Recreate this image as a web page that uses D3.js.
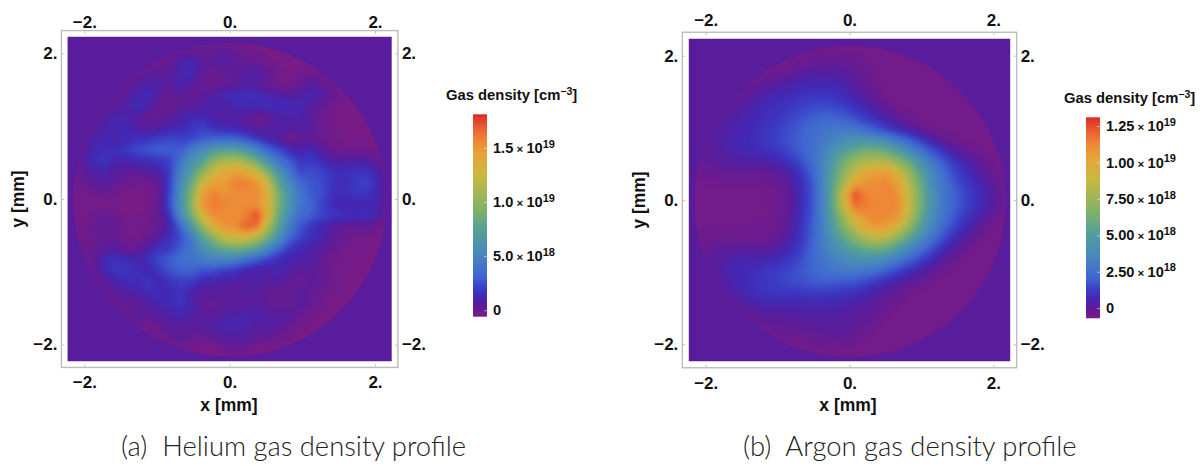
<!DOCTYPE html>
<html>
<head>
<meta charset="utf-8">
<script src="https://cdn.jsdelivr.net/npm/d3@7"></script>
<style>
  body { margin: 0; background: #fff; }
  svg { display: block; }
  text { font-family: "Liberation Sans", Arial, sans-serif; font-weight: 700; fill: #111; }
  .caption { font-family: "Lato", sans-serif; font-weight: 300; font-size: 27.4px; fill: #222; }
</style>
</head>
<body>
<svg id="chart" width="1204" height="466"></svg>
<script>
// gas density in units of 1e18 cm^-3. 30 x 30 cells, 0.15 mm wide, top row first
var o = -0.4;
var heliumGrid = [
  [o,o,o,o,o,o,o,o,o,o, o,o,o,o,o,o,o,o,o,o, o,o,o,o,o,o,o,o,o,o],
  [o,o,o,o,o,o,o,o,o,o, .2,.3,.1,.3,.7,.2,-.1,o,o,o, o,o,o,o,o,o,o,o,o,o],
  [o,o,o,o,o,o,o,-.2,-.1,.3, 1.1,1.4,.6,.4,.9,.4,.2,.3,-.1,o, o,o,o,o,o,o,o,o,o,o],
  [o,o,o,o,o,-.2,.1,.5,.6,.6, 1.1,1.5,.4,-.1,.3,.5,.9,1.1,.3,-.3, o,-.3,0,-.2,o,o,o,o,o,o],
  [o,o,o,o,-.2,.2,.7,1,.9,.5, 1.3,.5,.2,-.1,.2,.4,.7,.5,.2,-.3, o,.3,.8,.3,-.1,o,o,o,o,o],
  [o,o,o,-.1,.3,.6,1.2,1.6,.7,.2, .6,.4,.5,.9,1.5,1.5,1.7,1.6,1.2,1, .8,1,1.3,.8,.2,-.2,o,o,o,o],
  [o,o,0,.4,.6,.9,1.7,1.1,.3,-.1, .4,.6,.9,1,.9,1.2,1.3,1.4,1.7,1.4, 1.4,1.3,.8,.2,-.2,o,o,o,o,o],
  [o,o,.3,.9,1.2,1.1,.7,.2,.3,.6, 1,1.4,1.4,.9,.8,.9,.5,.1,.3,.9, 1.1,.9,.5,-.1,o,o,o,o,o,o],
  [o,0,.5,1,1.2,1.5,.9,.6,.8,1.1, 1.4,1.8,2.2,1.7,1.3,1.2,.8,.3,.7,1.1, .6,.9,.7,0,-.3,o,o,o,o,o],
  [o,.3,1.1,1.3,1.1,1.3,1.6,1.8,2.2,2.5, 2.2,2.4,3,3.2,3.5,3.3,2.8,2,1.2,.6, -.1,.2,.4,0,-.3,o,o,o,o,o],
  [o,.4,1.3,1.5,1.6,2,2.6,2.8,3.1,3, 3,4.5,5.5,7,7.5,7.5,6.5,5,3.5,2.5, 1.5,1,1.4,.7,.1,-.1,-.2,-.2,-.3,o],
  [-.3,.8,1.5,1.9,1.2,1.1,1.4,1.6,1.8,2.2, 4,6,7.5,10,11,11.5,10.5,8.5,6,4, 3,1.9,2,1.5,.9,.8,1,.8,.4,-.2],
  [-.2,.4,.9,1,.7,.6,.5,.7,1,2, 5,7,10,12.5,14,14.5,14,12.5,9.5,6.5, 4,2.4,2.6,2.3,1.6,1.5,1.8,1.7,1.2,.1],
  [-.3,.1,.6,.9,.4,-.1,-.2,-.2,.3,2.2, 5.5,8.5,12.5,14.5,14.8,16,16,15.2,12.5,8, 5.5,3.5,2.8,2.5,1.7,1.4,2,2.4,1.5,.2],
  [-.3,-.3,-.2,0,-.3,o,o,o,0,2.3, 6,9.5,14.5,16,15,15.5,15.5,15.5,13.5,9, 6,4,2.8,2.6,1.6,1.5,1.9,1.8,1.3,.2],
  [o,o,o,o,o,o,o,o,.2,2.6, 6,10,15,16,15.8,15.5,15.5,15.5,13.5,9, 6.5,4,3.3,2.2,1.4,1.2,1,1.3,1.2,.2],
  [o,-.3,-.1,.4,0,o,o,-.3,.2,1.8, 5.5,9,13,15.5,15.5,15.5,16,17.5,13.5,8.5, 5.5,3.5,3,2.3,2,1.7,1.5,1.6,1.2,.1],
  [o,-.2,.1,.3,.1,-.2,-.3,-.1,.3,1.1, 3.5,6.5,10.5,13.5,15,15.5,17,16.5,11.5,7.5, 4.5,2.8,1.8,1.2,.6,.3,.4,.3,.1,-.3],
  [o,-.2,0,.2,.3,-.2,-.3,0,.7,1.7, 2.5,4.5,7.5,10,12.5,13,13,11.5,9,6, 3.5,2.3,1.6,1.2,.6,0,-.2,-.3,o,o],
  [o,-.1,.2,.5,.7,0,.1,.9,1.7,2, 3,4,6,7.5,8.5,9,8.5,7.5,5.5,3.5, 2,1.4,1,.8,.2,-.2,-.3,o,o,o],
  [o,-.1,.3,1.3,1.7,1.5,1.2,1.7,2.5,3, 3.8,4,4.5,5,5,4.8,4,3.2,2.2,1.5, 1.2,1,.9,.2,-.1,-.3,o,o,o,o],
  [o,o,.2,1.4,1.9,1.8,1.5,1.2,2,2.8, 3.2,3.2,2.8,2.7,2.2,2,1.2,1,1,1.3, .9,.4,.7,.2,-.2,-.3,o,o,o,o],
  [o,o,-.1,.6,1,1.5,1.6,1.8,1.2,1.8, 2.2,2.2,1.3,1.2,.9,.9,.8,1.2,.6,.9, .4,.1,.6,.1,-.1,o,o,o,o,o],
  [o,o,o,.2,.7,.8,1.1,1.6,1.5,1.4, 1.8,1,.7,.8,.6,.6,.9,.6,.5,.2, .2,.7,.3,0,-.3,o,o,o,o,o],
  [o,o,o,-.2,.2,.5,.3,.9,1.3,1.4, 1.8,1.2,.3,.2,.6,.5,.4,.7,.3,0, .1,.8,.2,-.3,o,o,o,o,o,o],
  [o,o,o,o,-.2,.4,.8,.6,.8,1, 1.4,1.1,.6,.5,.7,.9,1.2,1,.8,.8, .7,.3,-.2,o,o,o,o,o,o,o],
  [o,o,o,o,o,o,.1,-.1,.2,.7, .6,.6,.8,1,1.2,1.3,1.1,.8,.9,.7, .2,-.2,o,o,o,o,o,o,o,o],
  [o,o,o,o,o,o,o,o,-.1,.3, .8,.2,.2,.6,.9,.8,.9,.6,.5,0, -.3,o,o,o,o,o,o,o,o,o],
  [o,o,o,o,o,o,o,o,o,o, .1,-.2,o,o,.2,.3,.2,o,o,o, o,o,o,o,o,o,o,o,o,o],
  [o,o,o,o,o,o,o,o,o,o, o,o,o,o,o,o,o,o,o,o, o,o,o,o,o,o,o,o,o,o]
];
var a = -0.5;
var argonGrid = [
  [a,a,a,a,a,a,a,a,a,a, a,a,a,a,a,a,a,a,a,a, a,a,a,a,a,a,a,a,a,a],
  [a,a,a,a,a,a,a,a,a,a, -.4,-.4,-.3,-.3,-.3,-.4,a,a,a,a, a,a,a,a,a,a,a,a,a,a],
  [a,a,a,a,a,a,a,a,a,-.3, -.2,-.1,0,0,0,-.1,-.3,a,a,a, a,a,a,a,a,a,a,a,a,a],
  [a,a,a,a,a,a,-.3,-.2,-.1,.1, .3,.4,.4,.4,.3,.1,-.2,-.4,a,a, a,a,a,a,a,a,a,a,a,a],
  [a,a,a,a,-.3,-.2,0,.2,.4,.6, .7,.8,.8,.8,.6,.3,0,-.3,a,a, a,a,a,a,a,a,a,a,a,a],
  [a,a,a,-.2,0,.2,.4,.6,.8,.9, 1.1,1.2,1.2,1.1,.9,.6,.2,-.1,-.4,a, a,a,a,a,a,a,a,a,a,a],
  [a,a,-.1,.1,.3,.5,.7,.9,1,1.2, 1.4,1.6,1.7,1.6,1.4,1,.7,.3,0,-.3, a,a,a,a,a,a,a,a,a,a],
  [a,-.3,.1,.3,.5,.6,.8,1,1.2,1.5, 1.7,2,2.2,2.2,2,1.7,1.3,.9,.5,.1, -.2,-.4,a,a,a,a,a,a,a,a],
  [a,0,.2,.4,.6,.7,.9,1.1,1.4,1.7, 2,2.3,2.7,2.9,3,2.9,2.4,1.9,1.4,.9, .4,0,-.3,a,a,a,a,a,a,a],
  [-.3,.1,.3,.5,.7,.8,1,1.2,1.5,1.8, 2.1,2.4,2.9,3.5,4,4.3,4.4,4.2,3.7,2.9, 2.2,1.4,.7,.1,-.2,-.4,a,a,a,a],
  [-.3,.1,.3,.4,.6,.7,.8,1,1.2,1.5, 2,2.5,3.2,4.2,5.2,6,6.5,6.5,6,5, 3.9,2.8,1.9,1.2,.5,.1,-.2,-.4,a,a],
  [-.4,0,.1,.3,.3,.4,.4,.5,.7,1.1, 1.6,2.3,3.4,5,6.5,7.6,8.2,8.5,8.2,7.4, 6,4.5,3.1,2.1,1.3,.7,.3,-.1,-.4,a],
  [-.4,-.2,-.2,-.1,-.1,-.1,-.1,0,.1,.5, 1.1,2,3.4,5.3,7.2,8.8,10.2,10.6,10.7,9.4, 7.6,5.6,3.8,2.6,1.7,1.1,.6,.2,-.2,a],
  [a,-.4,-.4,-.4,-.4,-.4,-.4,-.3,-.2,.2, .9,1.8,3.4,5.6,8,10.6,11,11.2,11.4,10.4, 8.4,6.2,4.2,2.9,2,1.4,.9,.5,.1,-.3],
  [a,-.4,-.4,-.4,-.4,-.4,-.4,-.4,-.3,.1, .8,1.7,3.4,5.8,9.5,12.6,11.5,11.2,11.4,11, 8.8,6.6,4.5,3.1,2.2,1.6,1.1,.7,.2,-.3],
  [a,-.4,-.4,-.4,-.4,-.4,-.4,-.4,-.3,.1, .8,1.7,3.4,5.8,9,12,11.6,11.3,11.4,11.2, 9,6.6,4.5,3.1,2.2,1.6,1.1,.7,.1,-.3],
  [a,-.4,-.4,-.4,-.4,-.4,-.4,-.4,-.3,.2, .9,1.8,3.3,5.4,7.8,10,11,11.4,11.2,10.9, 8.5,6.2,4.2,2.9,2,1.3,.8,.3,-.2,a],
  [a,-.4,-.4,-.4,-.4,-.4,-.3,-.3,-.2,.3, 1,1.9,3.2,5,6.8,8.6,10,10.8,10.5,9.2, 7.4,5.3,3.7,2.5,1.6,.9,.4,-.1,-.4,a],
  [a,-.3,-.3,-.3,-.3,-.3,-.3,-.3,0,.5, 1.1,2,3.1,4.4,5.8,7,8,8.6,8.2,7, 5.6,4,2.8,1.8,1,.4,-.1,-.4,a,a],
  [a,-.2,0,.1,.2,.2,.2,.2,.4,.8, 1.3,2.1,3,3.9,4.7,5.4,6,6.2,5.8,4.8, 3.7,2.7,1.8,1,.4,-.1,-.4,a,a,a],
  [a,0,.2,.4,.6,.6,.6,.7,.9,1.2, 1.6,2.2,2.8,3.3,3.7,4,4.2,4.1,3.6,2.9, 2.2,1.5,.9,.3,-.1,-.4,a,a,a,a],
  [a,0,.2,.5,.7,.8,1,1.2,1.3,1.5, 1.8,2.2,2.5,2.8,3,3,2.8,2.5,2,1.5, 1,.6,.2,-.2,-.4,a,a,a,a,a],
  [a,a,.1,.4,.7,.8,1,1.2,1.4,1.6, 1.7,1.9,2,2,1.9,1.8,1.6,1.2,.9,.5, .2,-.1,-.3,a,a,a,a,a,a,a],
  [a,a,0,.3,.5,.8,1,1.1,1.2,1.2, 1.2,1.3,1.3,1.2,1.1,1,.8,.4,.2,-.1, -.3,a,a,a,a,a,a,a,a,a],
  [a,a,a,0,.2,.4,.6,.7,.7,.7, .7,.7,.7,.7,.6,.5,.3,.1,-.2,-.3, a,a,a,a,a,a,a,a,a,a],
  [a,a,a,a,-.1,0,.2,.3,.3,.3, .4,.4,.4,.4,.3,.2,.1,-.1,-.3,a, a,a,a,a,a,a,a,a,a,a],
  [a,a,a,a,a,-.3,-.1,0,0,.1, .1,.2,.2,.2,.2,.1,-.1,-.3,a,a, a,a,a,a,a,a,a,a,a,a],
  [a,a,a,a,a,a,a,-.4,-.2,-.2, -.2,-.1,0,.1,.1,-.1,-.3,a,a,a, a,a,a,a,a,a,a,a,a,a],
  [a,a,a,a,a,a,a,a,a,a, a,-.4,-.3,-.3,-.3,-.4,a,a,a,a, a,a,a,a,a,a,a,a,a,a],
  [a,a,a,a,a,a,a,a,a,a, a,a,a,a,a,a,a,a,a,a, a,a,a,a,a,a,a,a,a,a]
];

var axisTicks = [-2, 0, 2];
var heliumLegendTicks = [0, 5, 10, 15];
var heliumLegendLabels = ["0", "5.0", "1.0", "1.5"];
var heliumLegendExp = ["", "18", "19", "19"];
var argonLegendTicks = [0, 2.5, 5, 7.5, 10, 12.5];
var argonLegendLabels = ["0", "2.50", "5.00", "7.50", "1.00", "1.25"];
var argonLegendExp = ["", "18", "18", "18", "19", "19"];

// rainbow colour function, position along the bar -> colour
var rainbowPos = [0, .06, .1, .14, .2, .31, .42, .53, .69, .8, .87, .94, 1];
var rainbowCol = ["#781b86", "#591c9b", "#4228b4", "#3b3cc4", "#3f66d2", "#4889bd", "#539e9b", "#7fb268", "#c9b842", "#e6a438", "#ee8636", "#e85a30", "#dd2a26"];

var svg = d3.select("#chart");
var defs = svg.append("defs");
var blur = defs.append("filter").attr("id", "soft").attr("x", "-5%").attr("y", "-5%").attr("width", "110%").attr("height", "110%")
    .attr("color-interpolation-filters", "sRGB");
blur.append("feGaussianBlur").attr("stdDeviation", 2);

function fmtAxis(d) {
    return (d < 0 ? "\u2212" + (-d) : d) + ".";
}

function drawPanel(p) {
    var x = d3.scaleLinear().domain([-2, 2]).range(p.xRange);
    var y = d3.scaleLinear().domain([-2, 2]).range(p.yRange);
    var color = d3.scaleLinear()
        .domain(rainbowPos.map(function(t) { return p.vMin + t * (p.vMax - p.vMin); }))
        .range(rainbowCol);

    var g = svg.append("g");

    // frame
    g.append("rect")
        .attr("x", x(-p.frame)).attr("y", y(p.frame))
        .attr("width", x(p.frame) - x(-p.frame)).attr("height", y(-p.frame) - y(p.frame))
        .attr("fill", "none").attr("stroke", "#bcbcbc").attr("stroke-width", 1.4);

    // area outside the nozzle
    g.append("rect")
        .attr("x", x(-p.extent)).attr("y", y(p.extent))
        .attr("width", x(p.extent) - x(-p.extent)).attr("height", y(-p.extent) - y(p.extent))
        .attr("fill", color(p.outside));

    var clipId = "clip" + p.name;
    defs.append("clipPath").attr("id", clipId).append("circle")
        .attr("cx", x(p.cx)).attr("cy", y(p.cy)).attr("r", x(p.radius) - x(0));

    var cells = d3.scaleLinear().domain([0, p.grid.length]);
    var gridX = cells.copy().range([x(-2.25), x(2.25)]);
    var gridY = cells.copy().range([y(2.25), y(-2.25)]);
    var path = d3.geoPath(d3.geoTransform({
        point: function(px, py) { this.stream.point(gridX(px), gridY(py)); }
    }));

    var inner = g.append("g").attr("clip-path", "url(#" + clipId + ")");
    inner.append("rect")
        .attr("x", x(-p.extent)).attr("y", y(p.extent))
        .attr("width", x(p.extent) - x(-p.extent)).attr("height", y(-p.extent) - y(p.extent))
        .attr("fill", color(p.grid[0][0]));

    var thresholds = d3.range(p.vMin, p.vMax, (p.vMax - p.vMin) / 90);
    var contours = d3.contours().size([p.grid[0].length, p.grid.length]).thresholds(thresholds)(p.grid.flat());
    inner.append("g").attr("filter", "url(#soft)")
        .selectAll("path").data(contours).enter().append("path")
        .attr("d", path)
        .attr("fill", function(d) { return color(d.value); });

    // axes on all four sides
    var tickColor = "#c4c4c4";
    var pads = [9, p.topPad, 4, 4];
    var axes = [
        [d3.axisBottom(x), 0, y(-p.frame)],
        [d3.axisTop(x), 0, y(p.frame)],
        [d3.axisLeft(y), x(-p.frame), 0],
        [d3.axisRight(y), x(p.frame), 0]
    ];
    axes.forEach(function(ax, i) {
        var sel = g.append("g")
            .attr("transform", "translate(" + ax[1] + "," + ax[2] + ")")
            .call(ax[0].tickValues(axisTicks).tickFormat(fmtAxis).tickSize(-3).tickPadding(pads[i]));
        sel.select(".domain").remove();
        sel.selectAll(".tick line").attr("stroke", tickColor);
        sel.selectAll("text").attr("font-size", 17).attr("font-family", null).attr("fill", "#111");
    });
    g.selectAll(".tick text").style("font-weight", 700);

    g.append("text").attr("x", p.xLabel[0]).attr("y", p.xLabel[1]).attr("text-anchor", "middle")
        .attr("font-size", 17.5).text("x [mm]");
    g.append("text").attr("transform", "translate(" + p.yLabel[0] + "," + p.yLabel[1] + ") rotate(-90)")
        .attr("text-anchor", "middle").attr("font-size", 17.5).text("y [mm]");

    // colour bar
    var gradId = "grad" + p.name;
    var grad = defs.append("linearGradient").attr("id", gradId)
        .attr("x1", 0).attr("y1", 1).attr("x2", 0).attr("y2", 0);
    rainbowPos.forEach(function(t, i) {
        grad.append("stop").attr("offset", t).attr("stop-color", rainbowCol[i]);
    });
    var ly = d3.scaleLinear().domain([p.vMin, p.vMax]).range(p.barY);
    g.append("rect")
        .attr("x", p.barX).attr("y", ly(p.vMax))
        .attr("width", 14).attr("height", ly(p.vMin) - ly(p.vMax))
        .attr("fill", "url(#" + gradId + ")");

    var lg = g.append("g").attr("transform", "translate(" + (p.barX + 14) + ",0)")
        .call(d3.axisRight(ly).tickValues(p.ticks).tickSize(-3).tickPadding(p.barPad).tickFormat(""));
    lg.select(".domain").remove();
    lg.selectAll(".tick line").attr("stroke", "#fff").attr("stroke-opacity", 0.5);
    lg.selectAll(".tick text").each(function(d, i) {
        var t = d3.select(this).attr("font-size", 14.6).attr("font-family", null).attr("fill", "#111");
        t.append("tspan").text(p.labels[i]);
        if (p.exps[i]) {
            t.append("tspan").attr("font-size", 11.5).text(" \u00d7 ");
            t.append("tspan").text("10");
            t.append("tspan").attr("font-size", 11).attr("dy", -5.5).text(p.exps[i]);
        }
    });

    var title = g.append("text").attr("x", p.title[0]).attr("y", p.title[1]).attr("font-size", 14.8).text("Gas density [cm");
    title.append("tspan").attr("font-size", 10.5).attr("dy", -5).text("\u22123");
    title.append("tspan").attr("dy", 5).text("]");

    svg.append("text").attr("class", "caption").attr("x", p.caption[0]).attr("y", p.caption[1])
        .attr("xml:space", "preserve").text(p.captionText);
}

drawPanel({
    name: "a", grid: heliumGrid, vMin: -0.6, vMax: 18.1, outside: 0.55, topPad: 3,
    xRange: [84.3, 375], yRange: [344.5, 53.5], frame: 2.315, extent: 2.23,
    cx: 0.005, cy: -0.01, radius: 2.155,
    xLabel: [229, 411], yLabel: [24, 199],
    barX: 473, barY: [316.7, 114.3], barPad: 6,
    ticks: heliumLegendTicks, labels: heliumLegendLabels, exps: heliumLegendExp,
    title: [446, 100], caption: [121, 456], captionText: "(a)  Helium gas density profile"
});
drawPanel({
    name: "b", grid: argonGrid, vMin: -0.7, vMax: 13.1, outside: 0.13, topPad: 6.5,
    xRange: [705.7, 993.3], yRange: [344.3, 55.7], frame: 2.325, extent: 2.235,
    cx: 0.01, cy: -0.02, radius: 2.165,
    xLabel: [848, 411], yLabel: [645, 200],
    barX: 1086, barY: [318.3, 117.3], barPad: 6,
    ticks: argonLegendTicks, labels: argonLegendLabels, exps: argonLegendExp,
    title: [1064, 103], caption: [743, 456], captionText: "(b)  Argon gas density profile"
});
</script>
</body>
</html>
